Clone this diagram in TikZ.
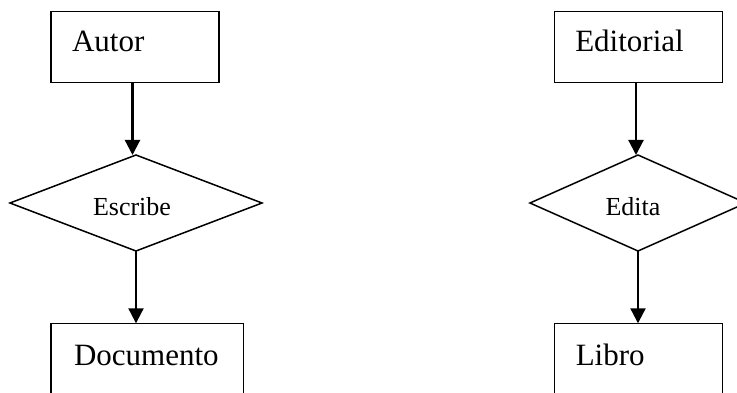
\documentclass[tikz,border=0pt]{standalone}
\usepackage{fontspec}
\setmainfont{Liberation Serif}
\usetikzlibrary{shapes.geometric,arrows.meta}
\begin{document}
\begin{tikzpicture}[x=1pt,y=-1pt,
  entbox/.style={draw,line width=1.5pt,rectangle,anchor=north west,outer sep=0pt,
    inner ysep=0pt,font=\fontsize{31}{36}\selectfont,align=left},
  relbox/.style={draw,line width=1.5pt,diamond,inner sep=0pt,outer sep=0pt,
    font=\fontsize{26}{30}\selectfont,text height=26pt,text depth=0pt},
  arr/.style={line width=2.2pt,-{Triangle[length=15pt,width=15pt]}}]
\useasboundingbox (0,0) rectangle (737,393);
\clip (0,0) rectangle (737,393);
% left column
\node[entbox,inner xsep=21pt,text width=126pt,text height=40.5pt,text depth=30.7pt] (autor) at (51,11.5) {Autor};
\node[relbox,aspect=2.625,minimum width=252pt,minimum height=96pt] (escribe) at (136,203) {\hspace*{-8pt}Escribe};
\node[entbox,inner xsep=23pt,text width=146.3pt,text height=41.7pt,text depth=60pt] (documento) at (51,323.3) {Documento};
% right column
\node[entbox,inner xsep=21pt,text width=126.4pt,text height=40.5pt,text depth=30.7pt] (editorial) at (554.3,11.5) {Editorial};
\node[relbox,aspect=2.25,minimum width=216pt,minimum height=96pt] (edita) at (638,203) {\hspace*{-10pt}Edita};
\node[entbox,inner xsep=21.5pt,text width=125.4pt,text height=41.7pt,text depth=60pt] (libro) at (554.3,323.3) {Libro};
% connectors
\draw[arr] ([xshift=-2.5pt]autor.south) -- ([xshift=-3.5pt]escribe.north);
\draw[arr] (escribe.south) -- (escribe.south |- documento.north);
\draw[arr] ([xshift=-2.5pt]editorial.south) -- ([xshift=-2pt]edita.north);
\draw[arr] (edita.south) -- (edita.south |- libro.north);
\end{tikzpicture}
\end{document}
